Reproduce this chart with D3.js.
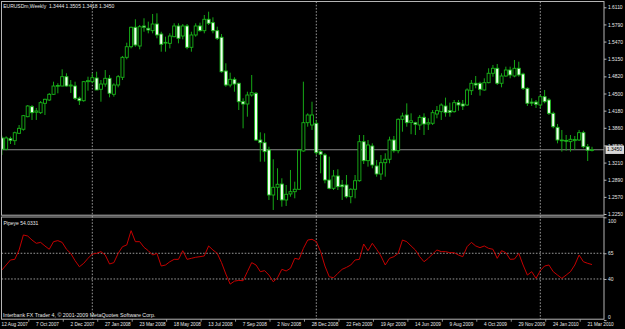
<!DOCTYPE html>
<html><head><meta charset="utf-8">
<script src="https://cdn.jsdelivr.net/npm/d3@7"></script>
<style>html,body{margin:0;padding:0;background:#000;}svg{display:block;}</style>
</head><body>
<script>
// ---- data (weekly EURUSD candles, 12 Aug 2007 .. 28 Mar 2010) ----
const opens = [1.3670,1.3459,1.3657,1.3619,1.3757,1.3832,1.4067,1.4254,1.4150,1.4142,1.4317,1.4379,1.4485,1.4640,1.4640,1.4814,1.4640,1.4640,1.4411,1.4366,
1.4721,1.4721,1.4790,1.4579,1.4677,1.4784,1.4485,1.4659,1.4803,1.5176,1.5374,1.5737,1.5387,1.5761,1.5718,1.5673,1.5798,1.5611,1.5443,1.5437,
1.5561,1.5761,1.5574,1.5761,1.5363,1.5593,1.5761,1.5673,1.5886,1.5823,1.5673,1.5550,1.4920,1.4659,1.4765,1.4691,1.4347,1.4304,1.4472,1.4504,
1.3632,1.3582,1.3445,1.2605,1.2749,1.2810,1.2512,1.2624,1.2667,1.2712,1.3427,1.3955,1.3912,1.3944,1.3414,1.3352,1.2885,1.2730,1.2960,1.2792,
1.2792,1.2573,1.2712,1.2872,1.3600,1.3246,1.3520,1.3147,1.2997,1.3208,1.3272,1.3632,1.3432,1.4018,1.4099,1.3960,1.3955,1.3912,1.4056,1.3931,
1.3944,1.4117,1.4161,1.4267,1.4180,1.4161,1.4329,1.4304,1.4286,1.4553,1.4691,1.4691,1.4566,1.4702,1.4878,1.4971,1.4691,1.4827,1.4939,1.4827,
1.4971,1.4864,1.4597,1.4340,1.4340,1.4286,1.4441,1.4379,1.4130,1.3869,1.3632,1.3625,1.3601,1.3620,1.3632,1.3769,1.3507,1.3444];
const highs = [1.3712,1.3700,1.3694,1.3787,1.3912,1.4099,1.4285,1.4285,1.4230,1.4360,1.4403,1.4510,1.4721,1.4691,1.4952,1.4878,1.4752,1.4721,1.4441,1.4734,
1.4814,1.4878,1.4907,1.4752,1.4939,1.4846,1.4691,1.4846,1.5201,1.5449,1.5748,1.5886,1.5780,1.5905,1.5842,1.5985,1.5998,1.5654,1.5561,1.5624,
1.5811,1.5811,1.5798,1.5798,1.5654,1.5811,1.5823,1.5966,1.6028,1.5923,1.5748,1.5611,1.5064,1.4889,1.4803,1.4702,1.4411,1.4534,1.4846,1.4528,
1.3776,1.3757,1.3507,1.3272,1.3104,1.2917,1.2792,1.3072,1.2854,1.3458,1.4721,1.4130,1.4347,1.4006,1.3445,1.3384,1.3321,1.3072,1.3085,1.2885,
1.2978,1.2730,1.2978,1.3725,1.3725,1.3632,1.3570,1.3259,1.3352,1.3384,1.3694,1.3707,1.4037,1.4142,1.4317,1.4130,1.3973,1.4099,1.4130,1.4037,
1.4192,1.4267,1.4317,1.4423,1.4329,1.4379,1.4379,1.4379,1.4597,1.4752,1.4827,1.4721,1.4784,1.4971,1.5033,1.5051,1.4878,1.5001,1.5001,1.5126,
1.5094,1.4889,1.4616,1.4411,1.4379,1.4472,1.4566,1.4411,1.4161,1.3931,1.3819,1.3725,1.3725,1.3707,1.3819,1.3806,1.3557,1.3505];
const lows = [1.3352,1.3440,1.3557,1.3539,1.3744,1.3806,1.4056,1.4006,1.4006,1.4117,1.4099,1.4360,1.4472,1.4504,1.4635,1.4627,1.4510,1.4379,1.4286,1.4347,
1.4553,1.4691,1.4566,1.4347,1.4627,1.4429,1.4441,1.4616,1.4752,1.5139,1.5343,1.5374,1.5326,1.5654,1.5624,1.5624,1.5531,1.5281,1.5281,1.5343,
1.5550,1.5437,1.5512,1.5326,1.5281,1.5561,1.5654,1.5624,1.5779,1.5624,1.5499,1.4889,1.4627,1.4616,1.4534,1.4192,1.3850,1.4067,1.4441,1.3613,
1.3227,1.3227,1.2512,1.2325,1.2512,1.2387,1.2400,1.2573,1.2543,1.2698,1.3414,1.3880,1.3819,1.3352,1.3010,1.2823,1.2711,1.2698,1.2698,1.2512,
1.2543,1.2450,1.2543,1.2853,1.3184,1.3134,1.3104,1.2947,1.2885,1.2947,1.3197,1.3395,1.3384,1.3787,1.3880,1.3740,1.3725,1.3819,1.3725,1.3819,
1.3912,1.4037,1.4006,1.4067,1.4067,1.4142,1.4180,1.4192,1.4267,1.4472,1.4597,1.4460,1.4553,1.4691,1.4814,1.4659,1.4616,1.4814,1.4784,1.4803,
1.4814,1.4566,1.4267,1.4267,1.4230,1.4224,1.4317,1.4099,1.3850,1.3570,1.3414,1.3432,1.3414,1.3445,1.3613,1.3477,1.3240,1.3418];
const closes = [1.3459,1.3670,1.3627,1.3768,1.3850,1.4086,1.4267,1.4142,1.4174,1.4329,1.4392,1.4485,1.4640,1.4650,1.4814,1.4640,1.4659,1.4411,1.4366,1.4721,
1.4740,1.4796,1.4566,1.4677,1.4784,1.4504,1.4659,1.4814,1.5176,1.5374,1.5737,1.5406,1.5748,1.5737,1.5686,1.5798,1.5593,1.5419,1.5456,1.5574,
1.5761,1.5531,1.5761,1.5363,1.5593,1.5761,1.5673,1.5886,1.5811,1.5673,1.5531,1.4907,1.4659,1.4765,1.4677,1.4347,1.4304,1.4472,1.4516,1.3632,
1.3582,1.3414,1.2605,1.2749,1.2805,1.2512,1.2618,1.2667,1.2712,1.3445,1.3955,1.4099,1.4099,1.3395,1.3365,1.2885,1.2730,1.2960,1.2760,1.2760,
1.2573,1.2712,1.2872,1.3600,1.3246,1.3539,1.3165,1.2997,1.3208,1.3272,1.3632,1.3432,1.4018,1.4080,1.3955,1.3990,1.3925,1.4056,1.3931,1.3955,
1.4142,1.4180,1.4285,1.4142,1.4150,1.4329,1.4286,1.4267,1.4566,1.4691,1.4659,1.4579,1.4702,1.4878,1.4971,1.4691,1.4827,1.4939,1.4846,1.4971,
1.4846,1.4597,1.4317,1.4320,1.4300,1.4441,1.4347,1.4130,1.3880,1.3632,1.3620,1.3615,1.3645,1.3640,1.3769,1.3507,1.3440,1.3450];
// indicator "Pipeye" values, one per week
const pipeye = [48.7,53.6,58.5,59.1,68.2,82.8,81.8,77.9,74.7,75.6,72.1,68.9,76.3,77.3,75.6,68.9,64.9,57.8,51.9,55.2,
60.1,64.3,64.9,66.6,63.3,54.6,55.9,64.9,71.4,73.1,87.0,76.3,76.3,70.8,67.5,63.3,64.9,52.6,53.6,56.8,
59.1,59.1,67.5,59.1,60.1,61.1,61.7,62.4,72.1,68.2,64.9,55.9,44.8,35.0,37.9,38.6,38.3,47.1,55.9,53.6,
47.1,48.1,43.8,37.3,41.2,49.4,47.8,50.4,60.1,59.1,69.8,77.9,78.6,76.3,66.6,52.6,42.2,41.2,45.5,49.4,
51.3,53.6,58.5,59.1,74.0,67.5,74.7,68.9,62.4,53.6,60.1,61.7,64.9,77.9,76.3,72.1,68.2,61.7,56.8,60.1,
64.3,68.2,66.6,66.6,65.6,65.6,63.3,61.7,71.4,75.6,72.1,70.5,72.1,69.8,68.9,60.1,67.5,65.6,59.1,59.4,
64.9,53.6,43.8,47.1,40.6,48.1,52.6,53.6,47.1,43.8,40.6,43.8,47.1,53.6,63.3,56.8,55.2,54.0331];
// axis labels
const priceTicks = [1.6110,1.5790,1.5470,1.5150,1.4820,1.4500,1.4180,1.3860,1.3530,1.3210,1.2890,1.2570,1.2250];
const indTicks = [100,65,40,0];
const indLevels = [65,40];
const dateLabels = ["12 Aug 2007","7 Oct 2007","2 Dec 2007","27 Jan 2008","23 Mar 2008","18 May 2008","13 Jul 2008","7 Sep 2008","2 Nov 2008",
"28 Dec 2008","22 Feb 2009","19 Apr 2009","14 Jun 2009","9 Aug 2009","4 Oct 2009","29 Nov 2009","24 Jan 2010","21 Mar 2010"];
const dateLabelBars = [0,8,16,24,32,40,48,56,64,72,80,88,96,104,112,120,128,136];
const yearStartBars = [21,73,125];
const bid = 1.3450;
const title = "EURUSDm,Weekly  1.3444 1.3505 1.3418 1.3450";
const indTitle = "Pipeye 54.0331";
const copyright = "Interbank FX Trader 4, \u00A9 2001-2009 MetaQuotes Software Corp.";

// ---- layout ----
const W = 625, H = 329;
const L = 1.5, R = 604, mainTop = 1.5, mainBot = 215.2, indTop = 217, indBot = 319.2;
const FONT = "'Liberation Sans', Arial, sans-serif";
const TXT = "#e8e8e8", GRID = "#a8a8a8", FRAME = "#b4b4b4";
const BULL_STROKE = "#18b418", WICK = "#16a816", BEAR_FILL = "#f2fff2";

const svg = d3.select("body").append("svg").attr("width", W).attr("height", H)
  .style("background", "#000");

const x = d3.scaleLinear().domain([0, 137]).range([1.85, 1.85 + 4.3077 * 137]);
const y = d3.scaleLinear().domain([1.2250, 1.6110]).range([214.0, 7.3]);
const yi = d3.scaleLinear().domain([0, 100]).range([320.1, 217.3]);

const bars = opens.map((o, i) => ({i, o, h: highs[i], l: lows[i], c: closes[i]}));

// clip paths
const defs = svg.append("defs");
defs.append("clipPath").attr("id", "cm").append("rect")
  .attr("x", L).attr("y", mainTop).attr("width", R - L).attr("height", mainBot - mainTop);
defs.append("clipPath").attr("id", "ci").append("rect")
  .attr("x", L).attr("y", indTop).attr("width", R - L).attr("height", indBot - indTop);

// vertical year grid (dashed)
svg.append("g").selectAll("line").data(yearStartBars).join("line")
  .attr("x1", d => x(d)).attr("x2", d => x(d))
  .attr("y1", mainTop).attr("y2", indBot)
  .attr("stroke", GRID).attr("stroke-width", 0.9).attr("stroke-dasharray", "1.6,1.6");

// indicator levels
svg.append("g").selectAll("line").data(indLevels).join("line")
  .attr("x1", L).attr("x2", R).attr("y1", d => yi(d)).attr("y2", d => yi(d))
  .attr("stroke", GRID).attr("stroke-width", 0.9).attr("stroke-dasharray", "1.6,1.6");

// bid line
svg.append("line").attr("x1", L).attr("x2", R).attr("y1", y(bid)).attr("y2", y(bid))
  .attr("stroke", "#8a8a8a").attr("stroke-width", 1);

// candles
const cg = svg.append("g").attr("clip-path", "url(#cm)");
cg.selectAll("line.wick").data(bars).join("line").attr("class", "wick")
  .attr("x1", d => x(d.i)).attr("x2", d => x(d.i))
  .attr("y1", d => y(d.h)).attr("y2", d => y(d.l))
  .attr("stroke", WICK).attr("stroke-width", 1);
cg.selectAll("rect.body").data(bars).join("rect").attr("class", "body")
  .attr("x", d => x(d.i) - 1.5).attr("width", 3)
  .attr("y", d => Math.min(y(d.o), y(d.c)))
  .attr("height", d => Math.max(0.8, Math.abs(y(d.o) - y(d.c))))
  .attr("fill", d => d.c >= d.o ? "#000" : BEAR_FILL)
  .attr("stroke", BULL_STROKE).attr("stroke-width", 0.9);

// indicator line
svg.append("path").datum(pipeye).attr("clip-path", "url(#ci)")
  .attr("d", d3.line().x((d, i) => x(i)).y(d => yi(d)))
  .attr("fill", "none").attr("stroke", "#c40000").attr("stroke-width", 1);

// frames
svg.append("rect").attr("x", L).attr("y", mainTop).attr("width", R - L).attr("height", mainBot - mainTop)
  .attr("fill", "none").attr("stroke", FRAME).attr("stroke-width", 1);
svg.append("rect").attr("x", L).attr("y", indTop).attr("width", R - L).attr("height", indBot - indTop)
  .attr("fill", "none").attr("stroke", FRAME).attr("stroke-width", 1);

// right price axis
const pa = svg.append("g").attr("transform", `translate(${R},0)`)
  .call(d3.axisRight(y).tickValues(priceTicks).tickFormat(d3.format(".4f")).tickSize(2.5).tickPadding(1.5));
pa.select(".domain").remove();
pa.selectAll("line").attr("stroke", FRAME);
pa.selectAll("text").attr("fill", TXT).style("font-family", FONT).style("font-size", "4.9px");

// bid label box
const bg = svg.append("g");
bg.append("rect").attr("x", R + 1.5).attr("y", y(bid) - 4.2).attr("width", 18.5).attr("height", 8.4)
  .attr("fill", "#d8d8d8");
bg.append("text").attr("x", R + 3).attr("y", y(bid)).attr("dy", "0.35em")
  .attr("fill", "#000").style("font-family", FONT).style("font-size", "4.9px").text(d3.format(".4f")(bid));

// indicator axis
const ia = svg.append("g").attr("transform", `translate(${R},0)`)
  .call(d3.axisRight(yi).tickValues(indTicks).tickFormat(d3.format("d")).tickSize(2.5).tickPadding(1.5));
ia.select(".domain").remove();
ia.selectAll("line").attr("stroke", FRAME);
ia.selectAll("text").attr("fill", TXT).style("font-family", FONT).style("font-size", "4.9px")
  .attr("dy", d => d === 100 ? "1.0em" : (d === 0 ? "-0.35em" : "0.32em"));

// bottom date axis
const da = svg.append("g");
da.selectAll("line").data(dateLabelBars.slice(1)).join("line")
  .attr("x1", d => x(d) - 7.5).attr("x2", d => x(d) - 7.5)
  .attr("y1", indBot).attr("y2", indBot + 2.5).attr("stroke", FRAME).attr("stroke-width", 0.8);
da.selectAll("text").data(dateLabels).join("text")
  .attr("x", (d, i) => x(dateLabelBars[i]) - 0.3).attr("y", 325.8)
  .attr("fill", TXT).style("font-family", FONT).style("font-size", "4.7px").text(d => d);

// texts
svg.append("text").attr("x", 3.2).attr("y", 7.6).attr("fill", TXT)
  .style("font-family", FONT).style("font-size", "5px").style("white-space", "pre")
  .attr("xml:space", "preserve").text(title);
svg.append("text").attr("x", 3.5).attr("y", 225).attr("fill", TXT)
  .style("font-family", FONT).style("font-size", "5px").text(indTitle);
svg.append("text").attr("x", 3).attr("y", 317).attr("fill", TXT)
  .style("font-family", FONT).style("font-size", "5.3px").text(copyright);
</script>
</body></html>
